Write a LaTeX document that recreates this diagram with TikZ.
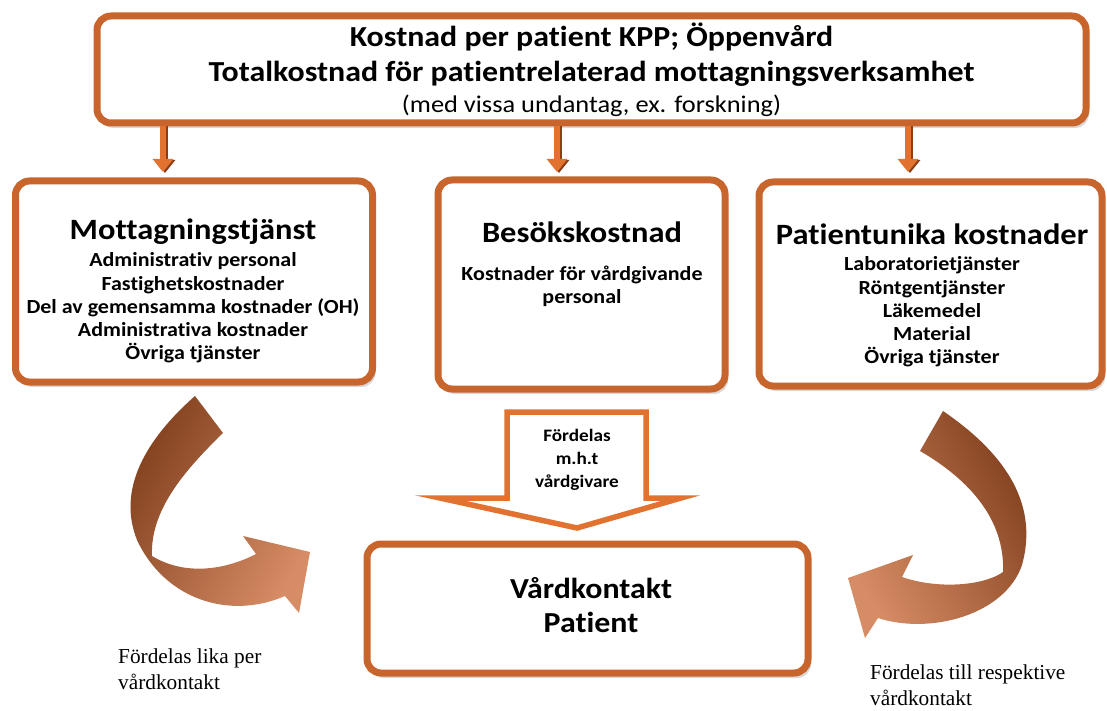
\documentclass[tikz,border=0pt]{standalone}
\usepackage{fontspec}
\setmainfont{Carlito}[FakeStretch=1.1,RawFeature={-liga;-clig;-calt}]
\newfontfamily\serifface{Liberation Serif}
\usetikzlibrary{arrows.meta,positioning,shadows}
\definecolor{boxorange}{RGB}{200,101,44}
\definecolor{arroworange}{RGB}{226,114,48}
\definecolor{arrowdark}{RGB}{140,62,25}
\definecolor{brdark}{RGB}{128,62,28}
\definecolor{brlight}{RGB}{196,148,122}
\definecolor{brpeach}{RGB}{214,140,100}
\tikzset{
    box/.style={rectangle,rounded corners=14pt,
        draw=boxorange,line width=7pt,fill=white,
        drop shadow={opacity=0.3,shadow xshift=3pt,shadow yshift=-5pt}},
    boxtitle/.style={font=\fontsize{29.5}{32}\selectfont\bfseries,inner sep=0pt},
    boxlist/.style={font=\fontsize{20}{23.3}\selectfont\bfseries,align=center,inner sep=0pt},
    downarrow/.style={draw=arroworange,line width=6pt,
        -{Triangle[width=20pt,length=13pt]}},
    downshade/.style={draw=arrowdark,line width=6pt,
        -{Triangle[width=20pt,length=13pt]}},
    ribbon/.style={shading=axis,left color=brdark,middle color=brlight,right color=brpeach},
    note/.style={font=\serifface\fontsize{21.3}{26}\selectfont,align=left,inner sep=0pt}
}

\begin{document}
\begin{tikzpicture}[x=1pt,y=-1pt]
    \useasboundingbox (0,0) rectangle (1107,711);
    \node[box, minimum width=989pt, minimum height=107pt] (kpp) at (591.5,69.5) {};
    \node[align=center, inner sep=0pt, font=\fontsize{29}{35}\selectfont\bfseries] (kpptext) at (591.5,70) {%
        Kostnad per patient KPP; Öppenvård\\
        Totalkostnad för patientrelaterad mottagningsverksamhet\\[-4pt]
        \fontsize{24}{30}\selectfont\mdseries (med vissa undantag, ex. forskning)};

    \node[box, minimum width=357pt, minimum height=201pt] (mott) at (194,281.5) {};
    \node[box, minimum width=287pt, minimum height=209pt] (besok) at (581.5,284.5) {};
    \node[box, minimum width=343pt, minimum height=204pt] (unika) at (930.5,284) {};
    \node[box, minimum width=441pt, minimum height=129pt] (vard) at (587.5,608.5) {};

    \node[boxtitle] (motttitle) at (193,232) {Mottagningstjänst};
    \node[boxlist] (mottlist) at (193,308) {Administrativ personal\\Fastighetskostnader\\
        Del av gemensamma kostnader (OH)\\Administrativa kostnader\\Övriga tjänster};
    \node[boxtitle] (besoktitle) at (582,232) {Besökskostnad};
    \node[boxlist] (besoklist) at (582,286) {Kostnader för vårdgivande\\personal};
    \node[boxtitle] (unikatitle) at (932,234) {Patientunika kostnader};
    \node[boxlist] (unikalist) at (932,312) {Laboratorietjänster\\Röntgentjänster\\
        Läkemedel\\Material\\Övriga tjänster};
    \node[boxtitle, align=center, font=\fontsize{29}{34}\selectfont\bfseries] (vardtext) at (591,605)
        {Vårdkontakt\\Patient};

    \coordinate (a1) at (163,172);
    \coordinate (a2) at (557,172);
    \coordinate (a3) at (908,172);
    \foreach \a in {a1,a2,a3} {
        \draw[downshade] ([xshift=2pt]kpp.south -| \a) -- ([xshift=2pt,yshift=-1pt]\a);
        \draw[downarrow] (kpp.south -| \a) -- (\a);
    }

    \draw[draw=arroworange, line width=5.5pt, fill=white, line join=miter]
        (507,412) -- (646,412) -- (646,498) -- (681,498) -- (577,528)
        -- (440,498) -- (507,498) -- cycle;
    \node[font=\fontsize{17.5}{23}\selectfont\bfseries, align=center, inner sep=0pt]
        (fordelas) at (577,460) {Fördelas\\m.h.t\\vårdgivare};

    \path[ribbon, shading angle=60]
        (195,396) -- (223,433) .. controls (185,470) and (150,510) .. (152,556)
        .. controls (185,576) and (225,570) .. (256,554) -- (243,536) -- (310,552)
        -- (299,613) -- (285,596) .. controls (230,620) and (165,600) .. (137,540)
        .. controls (117,490) and (145,440) .. (195,396) -- cycle;
    \path[ribbon, shading angle=-60]
        (943,411) .. controls (1000,450) and (1040,500) .. (1022,565)
        .. controls (1005,615) and (930,635) .. (878,618) -- (865,638) -- (848,578)
        -- (913,555) -- (902,577) .. controls (940,590) and (985,585) .. (1003,572)
        .. controls (1005,520) and (970,480) .. (920,451) -- cycle;

    \node[note, anchor=west] (likaper) at (118,669.5) {Fördelas lika per\\vårdkontakt};
    \node[note, anchor=west] (respektive) at (870,685) {Fördelas till respektive\\vårdkontakt};
\end{tikzpicture}
\end{document}
